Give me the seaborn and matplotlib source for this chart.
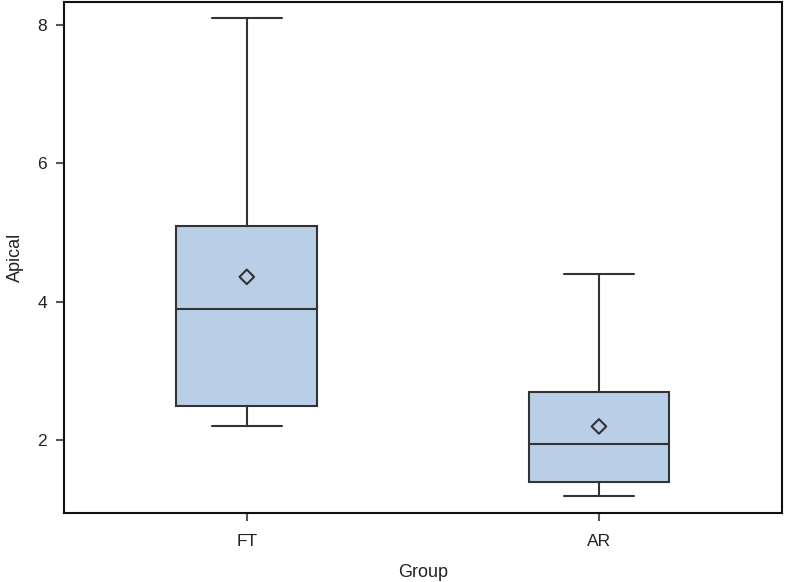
import matplotlib
matplotlib.use("Agg")
import matplotlib.pyplot as plt
import seaborn as sns
import pandas as pd

groups = ["FT", "AR"]
whisker_low = [2.2, 1.2]
q1 = [2.5, 1.4]
median = [3.9, 1.95]
q3 = [5.1, 2.7]
whisker_high = [8.1, 4.4]
mean = [4.36, 2.2]

sns.set_theme(style="ticks")
plt.rcParams["font.family"] = ["Liberation Sans", "DejaVu Sans"]

fig = plt.figure(figsize=(7.86, 5.82), dpi=100)
ax = fig.add_axes([0.081, 0.1186, 0.914, 0.878])

stats = []
for i, g in enumerate(groups):
    stats.append(dict(label=g, whislo=whisker_low[i], q1=q1[i], med=median[i],
                      q3=q3[i], whishi=whisker_high[i], fliers=[]))

edge = "#333333"
ax.bxp(stats, positions=list(range(len(groups))), widths=0.4, patch_artist=True,
       showfliers=False,
       boxprops=dict(facecolor="#B9CFE8", edgecolor=edge, linewidth=1.5),
       medianprops=dict(color=edge, linewidth=1.5),
       whiskerprops=dict(color=edge, linewidth=1.5),
       capprops=dict(color=edge, linewidth=1.5),
       capwidths=0.2)

df = pd.DataFrame({"Group": [0, 1], "mean": mean})
sns.scatterplot(data=df, x="Group", y="mean", marker="D", s=55,
                facecolor="none", edgecolor=edge, linewidth=1.5, ax=ax, zorder=5)

ax.set_xlim(-0.52, 1.52)
ax.set_ylim(0.95, 8.33)
ax.set_yticks([2, 4, 6, 8])
ax.set_xticks([0, 1])
ax.set_xticklabels(groups)
ax.set_xlabel("Group", fontsize=13, color="#222222", labelpad=11)
ax.set_ylabel("Apical", fontsize=13, color="#222222", labelpad=10)
ax.tick_params(axis="y", pad=6)
ax.tick_params(axis="x", pad=9)
ax.tick_params(axis="both", labelsize=12.5, labelcolor="#222222", color="#555555",
               length=6, width=1.5, direction="out")
for s in ax.spines.values():
    s.set_visible(True)
    s.set_color("#111111")
    s.set_linewidth(1.5)

fig.savefig("out.png", dpi=100)
